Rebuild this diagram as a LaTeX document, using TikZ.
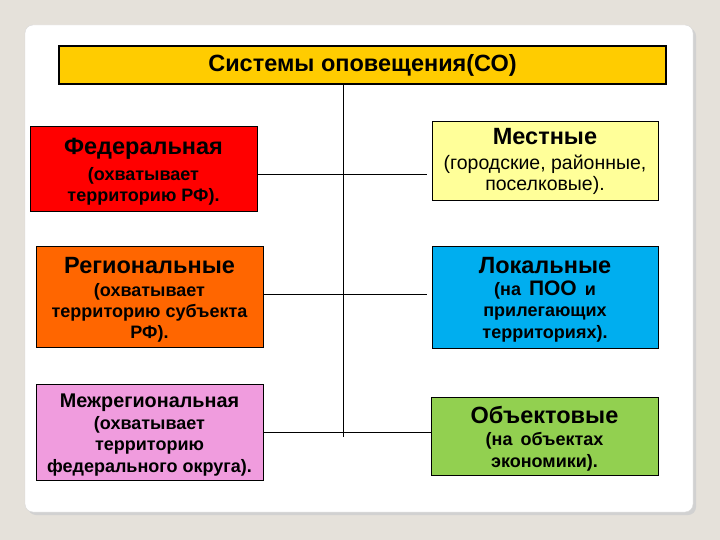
\documentclass[tikz,border=0pt]{standalone}
\usepackage{fontspec}
\setmainfont{Liberation Sans}
\definecolor{bgc}{HTML}{E5E1DA}
\definecolor{titlec}{HTML}{FFCC00}
\definecolor{fedc}{HTML}{FF0000}
\definecolor{regc}{HTML}{FF6600}
\definecolor{mezc}{HTML}{F09CDE}
\definecolor{mestc}{HTML}{FFFF99}
\definecolor{lokc}{HTML}{00AEEF}
\definecolor{objc}{HTML}{92D050}
\tikzset{
  box/.style={draw=black, line width=0.9pt, align=center, inner sep=0pt},
  subfont/.style={font=\fontsize{18}{#1}\selectfont\bfseries},
  conn/.style={draw=black, line width=0.9pt},
}
\newcommand{\hd}[2]{\rule{0pt}{#1pt}{\fontsize{23.5}{26}\selectfont\bfseries #2}}
\begin{document}
\begin{tikzpicture}[x=1pt,y=-1pt]
\useasboundingbox (0,0) rectangle (720,540);
\fill[bgc] (0,0) rectangle (720,540);
% slide
\fill[black!18, rounded corners=8pt] (28,28) rectangle (696,515);
\filldraw[fill=white, draw=black!15, rounded corners=8pt] (25,25) rectangle (693,512);
% title
\node[box, line width=1.8pt, fill=titlec, minimum width=607pt, minimum height=38pt,
  font=\fontsize{23.5}{26}\selectfont\bfseries] (title) at (362.5,65) {Системы оповещения(СО)};
% left boxes
\node[box, fill=fedc, minimum width=227pt, minimum height=85pt, subfont=21] (fed) at (143.5,168.5)
  {\hd{22}{Федеральная}\\[5pt] (охватывает\\ территорию РФ).};
\node[box, fill=regc, minimum width=227pt, minimum height=101pt, subfont=20.8] (reg) at (149.5,296.5)
  {\hd{22}{Региональные}\\[2.6pt] (охватывает\\ территорию субъекта\\ РФ).};
\node[box, fill=mezc, minimum width=227pt, minimum height=96pt, subfont=21.7] (mez) at (149.5,432)
  {\rule{0pt}{20pt}{\fontsize{19.8}{22}\selectfont\bfseries Межрегиональная}\\ (охватывает\\ территорию\\ федерального округа).};
% right boxes
\node[box, fill=mestc, minimum width=226pt, minimum height=79pt, font=\fontsize{19.5}{21.7}\selectfont] (mest) at (545,160.5)
  {\hd{18}{Местные}\\[3.3pt] (городские, районные,\\ поселковые).};
\node[box, fill=lokc, minimum width=226pt, minimum height=102pt, subfont=21.7] (lok) at (545,297)
  {\hd{22}{Локальные}\\ (на\, {\fontsize{21}{22}\selectfont ПОО}\, и\\ прилегающих\\ территориях).};
\node[box, fill=objc, minimum width=227pt, minimum height=78pt, subfont=22] (obj) at (544.5,436)
  {\hd{22}{Объектовые}\\ (на\, объектах\\ экономики).};
% connectors
\coordinate (vtop) at (343,84);
\coordinate (vbot) at (343,437);
\coordinate (h1) at (343,174);
\coordinate (h2) at (343,294);
\coordinate (h3) at (343,432);
\draw[conn] (vtop) -- (vbot);
\draw[conn, shorten >=5pt] (h1 -| fed.east) -- (h1 -| mest.west);
\draw[conn, shorten >=5pt] (h2 -| reg.east) -- (h2 -| lok.west);
\draw[conn] (h3 -| mez.east) -- (h3 -| obj.west);
\end{tikzpicture}
\end{document}
